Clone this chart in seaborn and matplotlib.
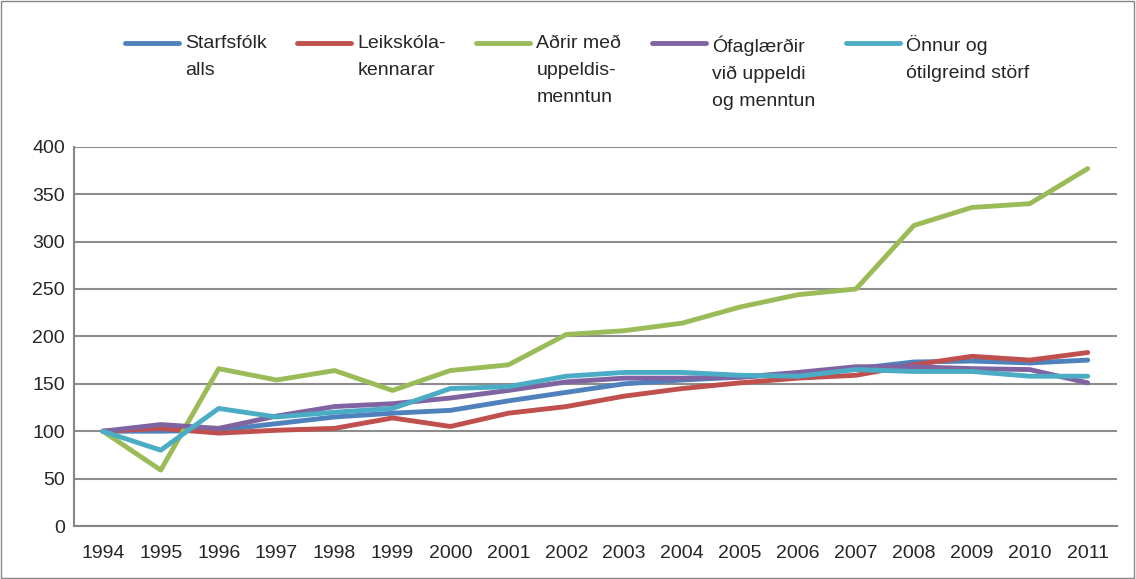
import pandas as pd
import matplotlib.pyplot as plt
import seaborn as sns
from matplotlib.patches import Rectangle

# Data (index, 1994 = 100)
years = [str(y) for y in range(1994, 2012)]
starfsfolk = [100, 100, 101, 108, 115, 119, 122, 132, 141, 150, 154, 157, 161, 166, 173, 174, 172, 175]
leikskolakennarar = [100, 103, 98, 101, 103, 114, 105, 119, 126, 137, 145, 151, 156, 159, 170, 179, 175, 183]
adrir = [100, 59, 166, 154, 164, 143, 164, 170, 202, 206, 214, 231, 244, 250, 317, 336, 340, 377]
ofaglaerdir = [100, 107, 103, 116, 126, 129, 135, 143, 152, 156, 156, 157, 162, 168, 168, 166, 165, 151]
onnur = [100, 80, 124, 115, 120, 124, 145, 147, 158, 162, 162, 159, 158, 165, 163, 163, 158, 158]

labels = ["Starfsfólk\nalls", "Leikskóla-\nkennarar", "Aðrir með\nuppeldis-\nmenntun",
          "Ófaglærðir\nvið uppeldi\nog menntun", "Önnur og\nótilgreind störf"]
colors = ["#4F81BD", "#C0504D", "#9BBB59", "#8064A2", "#4BACC6"]

series = [starfsfolk, leikskolakennarar, adrir, ofaglaerdir, onnur]
rows = []
for lab, vals in zip(labels, series):
    for i, v in enumerate(vals):
        rows.append({"pos": i, "value": v, "group": lab})
df = pd.DataFrame(rows)

sns.set_style("white")
plt.rcParams["font.family"] = ["Liberation Sans", "DejaVu Sans"]

fig = plt.figure(figsize=(11.36, 5.79), dpi=100)
ax = fig.add_axes([0.065, 0.0915, 0.918, 0.655])

sns.lineplot(data=df, x="pos", y="value", hue="group", hue_order=labels,
             palette=colors, linewidth=3.5, ax=ax, legend=False)

ax.set_xlim(-0.5, len(years) - 0.5)
ax.set_ylim(0, 400)
ax.set_yticks(range(0, 401, 50))
ax.set_xticks(range(len(years)))
ax.set_xticklabels(years)
ax.set_xticks([i + 0.5 for i in range(-1, len(years))], minor=True)
ax.tick_params(axis="x", which="major", length=0, pad=13.5, labelsize=14)
ax.tick_params(axis="x", which="minor", length=4.5, color="#868686", width=1.5, direction="out")
ax.tick_params(axis="y", length=4.5, color="#868686", width=1.5, direction="out", labelsize=14, pad=2)
ax.yaxis.grid(True, color="#8C8C8C", linewidth=1.5)
ax.set_axisbelow(True)
ax.set_xlabel("")
ax.set_ylabel("")
for s in ["top", "right"]:
    ax.spines[s].set_visible(False)
for s in ["left", "bottom"]:
    ax.spines[s].set_color("#868686")
    ax.spines[s].set_linewidth(1.5)

# legend across the top, line sample level with the first line of each label
handles = ax.get_lines()[:len(labels)]
leg = fig.legend(handles, labels, loc="upper left", bbox_to_anchor=(0.110, 0.939),
                 ncol=5, frameon=False, fontsize=14, handlelength=2.78, handleheight=1.1,
                 handletextpad=0.3, columnspacing=1.58, borderpad=0, borderaxespad=0)
leg._legend_handle_box.align = "top"
for col in leg._legend_handle_box.get_children():
    col.align = "top"
    for item in col.get_children():
        item.align = "top"
for t in leg.get_texts():
    t.set_linespacing(1.76)
for h in leg.legend_handles:
    h.set_linewidth(3.5)

fig.patches.append(Rectangle((0.001, 0.001), 0.997, 0.997, transform=fig.transFigure,
                             fill=False, edgecolor="#868686", linewidth=1))

plt.savefig("out.png", dpi=100)
